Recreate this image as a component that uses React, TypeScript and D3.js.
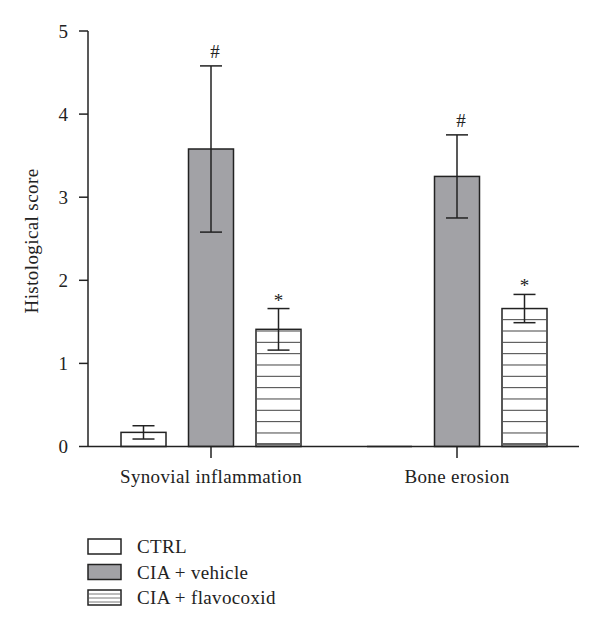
import React from "react";
import * as d3 from "d3";

const categories = ["Synovial inflammation", "Bone erosion"];
const groups = ["CTRL", "CIA + vehicle", "CIA + flavocoxid"];
const means = [
  [0.17, 3.58, 1.41],
  [0.0, 3.25, 1.66],
];
const errors = [
  [0.08, 1.0, 0.25],
  [0.0, 0.5, 0.17],
];
const marks = [
  ["", "#", "*"],
  ["", "#", "*"],
];
const yTicks = [0, 1, 2, 3, 4, 5];

const FONT = "'Liberation Serif', 'DejaVu Serif', serif";
const GRAY = "#a2a2a6";
const LS = 0.35;

export default function App() {
  const W = 600, H = 632;
  const axisX = 88, axisRight = 579;
  const y = d3.scaleLinear().domain([0, 5]).range([446.5, 31]);
  const centers = d3.scaleOrdinal<string, number>().domain(categories).range([211, 457]);
  const inner = d3.scaleBand().domain(groups).range([-90, 90]).paddingInner(1 / 3).paddingOuter(0);
  const bw = inner.bandwidth();
  const hatchStep = 11.33;

  return (
    <svg width={W} height={H} style={{ position: "absolute", left: 0, top: 0, background: "#fff" }}>
      {/* y axis */}
      <line x1={axisX} x2={axisX} y1={y(5)} y2={y(0)} stroke="#222" strokeWidth={1.5} />
      {yTicks.map((t) => (
        <g key={t}>
          <line x1={axisX - 9} x2={axisX} y1={y(t)} y2={y(t)} stroke="#222" strokeWidth={1.5} />
          <text x={axisX - 20} y={y(t) + 6.5} fontSize={19} fontFamily={FONT} textAnchor="end" fill="#222">{t}</text>
        </g>
      ))}
      <text transform={`translate(38,241) rotate(-90)`} fontSize={19} letterSpacing={0.4} fontFamily={FONT} textAnchor="middle" fill="#222">Histological score</text>

      {/* bars */}
      {categories.map((c, ci) => (
        <g key={c}>
          {groups.map((g, gi) => {
            const x0 = centers(c) + (inner(g) as number);
            const v = means[ci][gi];
            const top = y(v);
            const base = y(0);
            const cx = x0 + bw / 2;
            const e = errors[ci][gi];
            const hatchLines = gi === 2 ? d3.range(base - 2.2, top, -hatchStep) : [];
            return (
              <g key={g}>
                {v > 0 ? (
                  <rect x={x0} y={top} width={bw} height={base - top}
                    fill={gi === 1 ? GRAY : "#fff"} stroke="#222" strokeWidth={1.5} />
                ) : (
                  <line x1={x0} x2={x0 + bw} y1={base} y2={base} stroke="#222" strokeWidth={1.5} />
                )}
                {hatchLines.map((hy, k) => (
                  <line key={k} x1={x0 + 0.75} x2={x0 + bw - 0.75} y1={hy} y2={hy}
                    stroke={k === 0 ? "#666" : "#444"} strokeWidth={k === 0 ? 2.5 : 1} />
                ))}
                {e > 0 && (
                  <g stroke="#222" strokeWidth={1.5}>
                    <line x1={cx} x2={cx} y1={y(v + e)} y2={y(v - e)} />
                    <line x1={cx - 11} x2={cx + 11} y1={y(v + e)} y2={y(v + e)} />
                    <line x1={cx - 11} x2={cx + 11} y1={y(v - e)} y2={y(v - e)} />
                  </g>
                )}
                {marks[ci][gi] === "#" && (
                  <text x={cx + 4} y={y(v + e) - 8} fontSize={19} fontFamily={FONT} textAnchor="middle" fill="#222">#</text>
                )}
                {marks[ci][gi] === "*" && (
                  <text x={cx} y={y(v + e) - 2} fontSize={19} fontFamily={FONT} textAnchor="middle" fill="#222">*</text>
                )}
              </g>
            );
          })}
          <line x1={centers(c)} x2={centers(c)} y1={y(0)} y2={y(0) + 11.5} stroke="#222" strokeWidth={1.5} />
          <text x={centers(c)} y={483} fontSize={19} letterSpacing={LS} fontFamily={FONT} textAnchor="middle" fill="#222">{c}</text>
        </g>
      ))}

      {/* x axis */}
      <line x1={axisX} x2={axisRight} y1={y(0)} y2={y(0)} stroke="#222" strokeWidth={1.5} />

      {/* legend */}
      {groups.map((g, gi) => {
        const ly = 539 + gi * 25.5;
        return (
          <g key={g}>
            <rect x={88} y={ly} width={33} height={15} fill={gi === 1 ? GRAY : "#fff"} stroke="#222" strokeWidth={1.5} />
            {gi === 2 && [ly + 4, ly + 8, ly + 12].map((hy, k) => (
              <line key={k} x1={88.75} x2={120.25} y1={hy} y2={hy} stroke="#555" strokeWidth={0.8} />
            ))}
            <text x={137} y={ly + 14} fontSize={19} letterSpacing={LS} fontFamily={FONT} fill="#222">{g}</text>
          </g>
        );
      })}
    </svg>
  );
}
